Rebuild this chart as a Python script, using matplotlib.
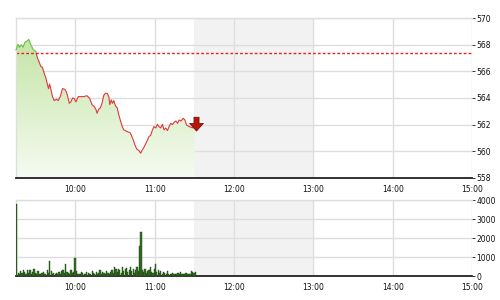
import numpy as np
import matplotlib
matplotlib.use('Agg')
import matplotlib.pyplot as plt
from matplotlib.patches import Polygon
from matplotlib.path import Path
from matplotlib.colors import LinearSegmentedColormap

# price: minutes after 9:15 and index value
price_min = [0, 1.5, 2.5, 4, 5.3, 6.8, 8.1, 9.6, 11.2, 13.2, 15, 16.2, 17.5, 18.8, 20,
             21.3, 22.6, 23.8, 24.6, 25.4, 26.4, 27.6, 28.9, 30.7, 31.9, 33.5, 35.2, 36.9,
             37.9, 38.9, 40.3, 41.5, 42.8, 44.1, 45.3, 47.1, 48.7, 51.2, 53.7, 55.7, 57.5,
             59.3, 60.6, 61.3, 62.6, 63.9, 65.1, 66.4, 67.7, 69, 70.2, 71, 72, 73, 74,
             75.3, 76.5, 77.8, 79.1, 80.4, 81.6, 84.2, 86.2, 87.2, 88.7, 90, 91.3, 93,
             94.3, 95.6, 96.8, 98.9, 100.6, 101.9, 103.2, 104.4, 105.7, 107, 108.2, 109.5,
             110.8, 112, 113.3, 114.6, 115.8, 117.1, 118.4, 119.6, 121, 122.2, 123.5,
             124.8, 126.5, 127.8, 129, 131, 133.6, 135.4]
price_val = [567.6, 568.03, 567.8, 568.0, 567.8, 568.2, 568.25, 568.4, 568.0, 567.6, 567.5,
             567.0, 566.7, 566.35, 566.3, 565.85, 565.5, 565.0, 564.7, 565.05, 564.65,
             564.1, 563.8, 563.9, 563.8, 564.1, 564.7, 564.65, 564.5, 564.2, 563.6, 563.7,
             564.0, 563.95, 563.7, 564.1, 564.1, 564.1, 564.17, 563.97, 563.5, 563.35,
             563.1, 562.85, 563.15, 563.27, 563.6, 564.2, 564.35, 564.35, 564.1, 563.5,
             563.85, 563.6, 563.8, 563.4, 563.27, 562.72, 562.27, 561.85, 561.6, 561.47,
             561.4, 561.22, 560.85, 560.47, 560.17, 560.05, 559.85, 560.1, 560.3, 560.72,
             561.1, 561.2, 561.6, 561.85, 561.75, 562.02, 561.85, 561.75, 562.02, 561.6,
             561.75, 561.55, 561.85, 562.1, 562.0, 562.17, 562.27, 562.1, 562.35, 562.27,
             562.47, 562.35, 561.97, 561.85, 561.75, 561.92]
ref_price = 567.4

# volume per minute from 9:15
volume = [3800, 150, 120, 250, 180, 300, 200, 120, 330, 150,
          300, 120, 200, 350, 180, 100, 250, 120, 80, 150,
          200, 120, 100, 300, 150, 780, 250, 120, 180, 100,
          150, 80, 200, 120, 250, 300, 150, 620, 200, 150,
          100, 300, 150, 200, 950, 250, 120, 100, 80, 200,
          150, 100, 80, 200, 150, 120, 100, 250, 150, 100,
          200, 120, 150, 300, 100, 200, 150, 100, 250, 180,
          120, 200, 300, 150, 450, 350, 200, 380, 300, 150,
          450, 250, 350, 400, 200, 300, 480, 250, 350, 150,
          300, 500, 250, 1600, 2300, 300, 200, 350, 150, 250,
          300, 500, 200, 150, 350, 650, 200, 300, 150, 250,
          120, 200, 150, 100, 250, 120, 100, 80, 150, 100,
          80, 120, 150, 100, 200, 80, 120, 100, 150, 80,
          120, 100, 250, 200, 180, 220]

hour_ticks = [10, 11, 12, 13, 14, 15]
hour_labels = ['10:00', '11:00', '12:00', '13:00', '14:00', '15:00']
price_ticks = [558, 560, 562, 564, 566, 568, 570]
vol_ticks = [0, 1000, 2000, 3000, 4000]

t = 9.25 + np.array(price_min) / 60.0
p = np.array(price_val)
tv = 9.25 + (np.arange(len(volume)) + 0.6) / 60.0

plt.rcParams['font.family'] = 'DejaVu Sans'
fig = plt.figure(figsize=(5, 3), dpi=100)
ax = fig.add_axes([0.032, 0.407, 0.912, 0.533])
ax2 = fig.add_axes([0.032, 0.08, 0.912, 0.253])


def style(a, yticks):
    a.set_xlim(9.25, 15)
    a.set_ylim(yticks[0], yticks[-1])
    a.axvspan(11.5, 13, color='#f2f2f2', zorder=0, lw=0)
    a.set_axisbelow(True)
    a.grid(True, color='#dedede', lw=1.0)
    a.set_xticks(hour_ticks)
    a.set_xticklabels(hour_labels)
    a.set_yticks(yticks)
    a.yaxis.tick_right()
    a.tick_params(axis='x', length=0, pad=5, labelsize=5.5, colors='#111')
    a.tick_params(axis='y', length=2, width=0.6, pad=1, labelsize=5.5, colors='#111')
    for s in ['top', 'left']:
        a.spines[s].set_color('#dedede')
        a.spines[s].set_linewidth(1.0)
    a.spines['right'].set_visible(False)
    a.spines['bottom'].set_color('#222')
    a.spines['bottom'].set_linewidth(1.3)


style(ax, price_ticks)
style(ax2, vol_ticks)

# gradient fill under the price line
poly = np.vstack([[t[0], 558], np.column_stack([t, p]), [t[-1], 558]])
patch = Polygon(poly, closed=True, facecolor='none', edgecolor='none')
ax.add_patch(patch)
cmap = LinearSegmentedColormap.from_list('g', ['#f6fbf2', '#c4e5a6'])
grad = np.linspace(0, 1, 256).reshape(-1, 1)
im = ax.imshow(grad, extent=[t[0], t[-1], 558, p.max()], origin='lower',
               aspect='auto', cmap=cmap, zorder=1)
im.set_clip_path(patch)

# line: green above reference, red below
up, = ax.plot(t, p, color='#6cbf4a', lw=0.8, zorder=3)
dn, = ax.plot(t, p, color='#dd3a3a', lw=0.8, zorder=3)
up.set_clip_path(plt.Rectangle((9, ref_price), 7, 10, transform=ax.transData))
dn.set_clip_path(plt.Rectangle((9, 550), 7, ref_price - 550, transform=ax.transData))

ax.axhline(ref_price, color='#e52222', lw=1.0, ls=(0, (2, 1.5)), zorder=2)

arrow = Path([(-0.35, 1), (0.35, 1), (0.35, 0.15), (0.95, 0.15), (0, -0.9),
              (-0.95, 0.15), (-0.35, 0.15), (-0.35, 1)])
ax.plot(t[-1] + 0.01, 562.05, marker=arrow, ms=10.5, color='#b3180a',
        mec='#6a0800', mew=0.5, zorder=5)

ax.set_xlim(9.25, 15)
ax.set_ylim(558, 570)

ax2.bar(tv, volume, width=0.9 / 60, color='#336e24', edgecolor='#1f4412',
        lw=0.3, zorder=3)
ax2.set_xlim(9.25, 15)
ax2.set_ylim(0, 4000)

fig.savefig('out.png', dpi=100)
